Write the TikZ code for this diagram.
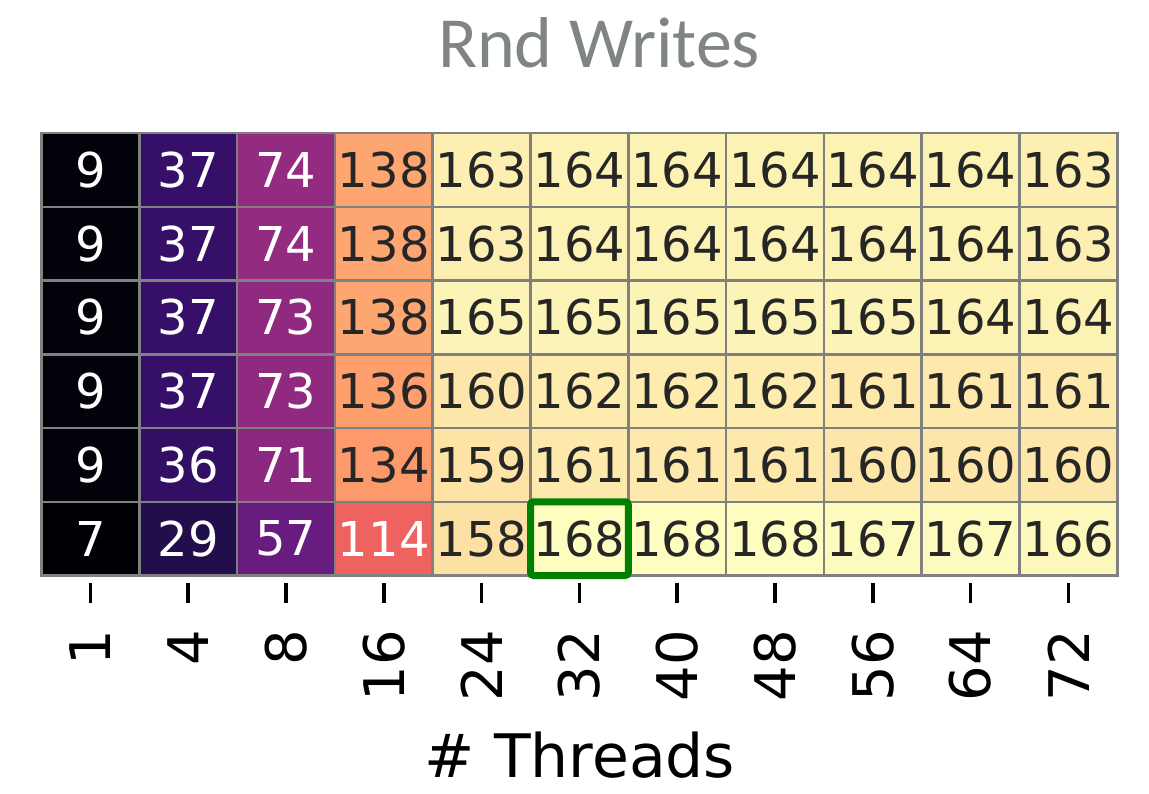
\documentclass[tikz,border=0pt]{standalone}
\usepackage{fontspec}
\usepackage{xcolor}
\usepackage{tikz}
\usetikzlibrary{positioning, calc}
\setmainfont{DejaVu Sans}
\newfontfamily\titlefont{Carlito}
% magma colour map, ten steps
\definecolor{mg0}{HTML}{000004}
\definecolor{mg1}{HTML}{140E36}
\definecolor{mg2}{HTML}{3B0F70}
\definecolor{mg3}{HTML}{641A80}
\definecolor{mg4}{HTML}{8C2981}
\definecolor{mg5}{HTML}{B73779}
\definecolor{mg6}{HTML}{DE4968}
\definecolor{mg7}{HTML}{F7705C}
\definecolor{mg8}{HTML}{FE9F6D}
\definecolor{mg9}{HTML}{FECF92}
\definecolor{mg10}{HTML}{FCFDBF}
\definecolor{mg11}{HTML}{FCFDBF}
\definecolor{gridgray}{HTML}{808080}
\definecolor{txtdark}{HTML}{262626}
\definecolor{titlegray}{HTML}{7F8485}
\definecolor{pick}{HTML}{008000}
\newcommand{\setheat}[1]{%
  \pgfmathsetmacro{\heatt}{(#1-7)/161*10}%
  \pgfmathtruncatemacro{\heati}{floor(\heatt)}%
  \pgfmathtruncatemacro{\heatj}{\heati+1}%
  \pgfmathtruncatemacro{\heatp}{round((\heatj-\heatt)*100)}%
  \colorlet{heat}{mg\heati!\heatp!mg\heatj}%
  \ifnum#1<120 \colorlet{heattext}{white}\else\colorlet{heattext}{txtdark}\fi
}
\tikzset{
  cellbox/.style={
    rectangle, inner sep=0pt, outer sep=0pt,
    minimum width=97.8pt, minimum height=73.75pt,
    draw=gridgray, line width=2.5pt,
    font=\fontsize{48}{56}\selectfont,
  },
  tick/.style={line width=3.5pt, black},
  ticklabel/.style={rotate=90, anchor=east, inner sep=0pt,
    font=\fontsize{56}{60}\selectfont},
  highlight/.style={draw=pick, line width=7pt, rounded corners=3pt},
}

\begin{document}
\begin{tikzpicture}[x=1pt, y=-1pt]
  \useasboundingbox (0,0) rectangle (1149,793);
  \node[anchor=base, text=titlegray, font=\titlefont\fontsize{72}{80}\selectfont] (title) at (599,67) {Rnd Writes};
  \foreach \row [count=\r from 0] in {
      {9,37,74,138,163,164,164,164,164,164,163},
      {9,37,74,138,163,164,164,164,164,164,163},
      {9,37,73,138,165,165,165,165,165,164,164},
      {9,37,73,136,160,162,162,162,161,161,161},
      {9,36,71,134,159,161,161,161,160,160,160},
      {7,29,57,114,158,168,168,168,167,167,166}} {
    \foreach \v [count=\c from 0] in \row {
      \setheat{\v}
      \node[cellbox, fill=heat, text=heattext] (c\r-\c) at ({41.5+97.8*(\c+0.5)}, {133+73.75*(\r+0.5)}) {\v};
    }
  }
  \draw[highlight] (c5-5.south west) rectangle (c5-5.north east);
  \foreach \t [count=\c from 0] in {1,4,8,16,24,32,40,48,56,64,72} {
    \coordinate (tk\c) at ({41.5+97.8*(\c+0.5)}, 583);
    \draw[tick] (tk\c) -- ++(0,20);
    \node[ticklabel] (tl\c) at ({41.5+97.8*(\c+0.5)}, 630) {\t};
  }
  \node[anchor=base, font=\fontsize{60}{66}\selectfont] (xlabel) at (580,777) {\# Threads};
\end{tikzpicture}
\end{document}
